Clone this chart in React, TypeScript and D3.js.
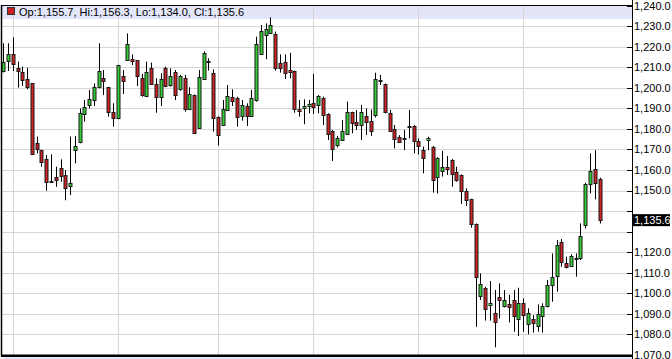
import React from "react";
import * as d3 from "d3";

const opens = [1208.2,1213.1,1216.3,1209.5,1207.9,1204.2,1202.2,1173.0,1169.7,1165.2,1154.9,1156.7,1160.8,1157.5,1152.6,1170.1,1173.3,1187.1,1191.5,1194.1,1200.3,1204.7,1200.3,1188.4,1185.2,1206.0,1213.4,1214.2,1213.4,1204.7,1195.7,1209.8,1201.7,1195.4,1209.8,1201.4,1207.9,1199.3,1205.0,1189.7,1196.5,1180.8,1204.3,1213.2,1207.1,1186.0,1181.9,1189.2,1195.7,1194.9,1186.3,1191.2,1186.3,1194.1,1216.3,1225.7,1226.9,1226.1,1212.0,1212.5,1208.7,1208.2,1189.7,1190.0,1191.2,1192.8,1191.7,1195.2,1187.1,1179.0,1171.9,1174.9,1177.5,1188.1,1183.2,1181.9,1186.5,1183.9,1186.8,1204.0,1201.7,1187.6,1179.8,1176.2,1175.5,1181.2,1181.6,1174.3,1169.7,1174.6,1171.4,1156.4,1159.5,1161.6,1164.9,1159.2,1157.6,1149.9,1145.7,1133.7,1098.3,1102.7,1094.0,1090.2,1098.0,1094.0,1094.6,1096.7,1087.3,1095.1,1085.0,1087.3,1083.7,1088.9,1093.5,1103.7,1108.1,1125.1,1114.6,1113.6,1116.8,1117.0,1132.9,1153.0,1160.5,1155.7];
const highs = [1221.7,1221.7,1224.6,1212.8,1210.3,1209.8,1202.2,1176.3,1169.9,1167.3,1167.6,1161.6,1165.2,1160.0,1176.3,1176.6,1190.0,1194.1,1199.0,1202.2,1221.7,1208.7,1200.5,1192.5,1211.2,1208.7,1226.5,1216.3,1213.6,1206.8,1212.8,1212.3,1204.7,1207.1,1210.3,1209.5,1208.7,1206.3,1206.3,1200.3,1196.8,1208.7,1217.7,1214.4,1209.0,1186.2,1194.1,1201.4,1199.3,1195.7,1194.1,1192.5,1199.0,1224.9,1230.6,1231.4,1234.3,1227.4,1216.3,1216.3,1217.1,1208.4,1194.1,1194.4,1194.1,1206.8,1196.5,1195.7,1187.6,1179.5,1176.6,1184.3,1193.3,1188.4,1189.2,1191.7,1190.0,1189.5,1207.4,1206.3,1202.2,1189.2,1181.9,1177.0,1179.5,1189.2,1181.9,1175.4,1171.4,1176.2,1171.7,1166.2,1169.3,1166.8,1165.4,1161.6,1157.9,1151.1,1146.0,1134.0,1109.7,1103.2,1106.0,1101.6,1104.8,1101.6,1099.2,1101.6,1102.7,1097.5,1092.7,1089.4,1094.6,1095.1,1106.5,1119.4,1125.9,1126.4,1117.8,1119.0,1119.4,1134.0,1153.8,1168.1,1169.7,1156.3];
const lows = [1207.5,1208.2,1208.2,1200.1,1200.9,1199.3,1167.3,1168.1,1161.6,1149.9,1153.8,1151.8,1154.3,1145.3,1147.8,1163.2,1173.0,1183.6,1190.0,1191.2,1199.8,1196.5,1186.0,1181.1,1185.0,1197.0,1213.1,1211.1,1200.9,1195.7,1195.5,1201.4,1187.9,1191.2,1200.3,1200.6,1194.1,1198.6,1188.4,1189.2,1177.6,1180.6,1203.8,1208.4,1178.7,1171.9,1181.4,1188.7,1191.2,1181.1,1184.0,1181.4,1186.0,1193.3,1216.0,1213.9,1226.5,1208.4,1207.4,1204.3,1204.7,1187.9,1186.0,1182.3,1187.6,1187.3,1187.6,1181.9,1174.6,1164.4,1171.0,1174.6,1177.0,1177.9,1179.5,1174.6,1177.0,1176.6,1185.6,1201.4,1187.6,1178.7,1170.5,1173.3,1169.7,1175.4,1168.1,1167.6,1158.4,1169.7,1149.0,1148.6,1156.8,1157.6,1151.9,1154.3,1143.5,1142.5,1131.9,1083.7,1096.7,1086.7,1086.7,1073.7,1087.8,1093.1,1085.8,1081.3,1079.2,1081.3,1080.0,1080.8,1081.3,1080.8,1093.1,1095.9,1100.8,1112.9,1112.1,1112.9,1108.1,1116.2,1131.6,1148.6,1145.7,1134.0];
const closes = [1212.8,1216.3,1211.5,1208.2,1204.2,1200.1,1167.8,1170.1,1163.7,1153.9,1154.3,1155.4,1156.7,1151.0,1153.9,1171.9,1187.6,1190.5,1194.4,1200.3,1208.2,1203.3,1188.1,1185.7,1211.0,1203.7,1221.2,1213.4,1205.5,1196.2,1207.6,1202.2,1195.4,1204.3,1200.9,1206.0,1196.5,1205.8,1189.7,1196.8,1177.9,1205.5,1216.8,1213.0,1185.2,1177.4,1189.5,1196.2,1193.6,1185.5,1191.7,1186.3,1195.2,1221.2,1227.7,1228.5,1230.6,1209.5,1209.8,1207.1,1207.6,1189.5,1188.7,1191.2,1192.0,1190.8,1196.2,1187.1,1177.5,1170.1,1175.4,1179.2,1188.4,1182.7,1181.6,1188.1,1183.5,1179.0,1204.2,1203.6,1188.1,1179.0,1175.1,1174.0,1175.3,1181.0,1174.3,1171.7,1165.7,1175.4,1155.1,1165.7,1161.3,1160.5,1158.1,1155.5,1149.8,1145.7,1133.6,1108.1,1104.3,1092.7,1095.1,1085.7,1096.4,1096.7,1093.1,1088.9,1095.1,1089.3,1090.5,1085.4,1089.7,1094.0,1103.9,1107.8,1123.3,1115.4,1112.6,1118.3,1117.0,1127.9,1153.0,1159.5,1153.5,1135.6];

const yTicks = d3.range(1070, 1241, 10);
const monthStarts = [2, 24, 45, 65, 87, 109];

const W = 672, H = 359;
const left = 1, axisX = 632, top = 5.7, bottom = 354.9;
const fmt = d3.format(",.1f");

export default function App() {
  const n = closes.length;
  const x = d3.scaleLinear().domain([-0.48, 131.8]).range([left, axisX]);
  const y = d3.scaleLinear().domain([1070, 1240]).range([bottom, top]);
  const last = n - 1;
  const lastY = y(closes[last]);
  const font = "'Liberation Sans', Arial, sans-serif";
  return (
    <svg width={W} height={H} style={{ position: "absolute", left: 0, top: 0, background: "#fff" }}
      fontFamily={font}>
      <rect x={0} y={0} width={W} height={H} fill="#fff" />
      {/* header band */}
      <rect x={2} y={5} width={axisX - 2} height={14} fill="#e3e5f9" />
      {/* horizontal grid */}
      {yTicks.filter(v => v > 1070 && v < 1240).map(v => (
        <line key={"g" + v} x1={2} x2={axisX} y1={Math.round(y(v)) + 0.5} y2={Math.round(y(v)) + 0.5}
          stroke="#d6d6d6" strokeWidth={1} />
      ))}
      {/* vertical grid */}
      {monthStarts.map(i => (
        <line key={"v" + i} x1={Math.round(x(i)) + 0.5} x2={Math.round(x(i)) + 0.5} y1={5} y2={355}
          stroke="#d6d6d6" strokeWidth={1} />
      ))}
      {/* candles */}
      {closes.map((c, i) => {
        const o = opens[i];
        const cx = Math.round(x(i)) + 0.5;
        const up = c >= o;
        const yt = y(Math.max(o, c));
        const yb = y(Math.min(o, c));
        return (
          <g key={"c" + i}>
            <line x1={cx} x2={cx} y1={y(highs[i])} y2={y(lows[i])} stroke="#000" strokeWidth={1} />
            <rect x={cx - 1.5} y={Math.round(yt) + 0.5} width={3} height={Math.max(1, Math.round(yb - yt))}
              fill={up ? "#33cc33" : "#cc2222"} stroke="#1a1a1a" strokeWidth={1} />
          </g>
        );
      })}
      {/* frame */}
      <line x1={1.5} x2={1.5} y1={5} y2={356} stroke="#000" strokeWidth={1.5} />
      <line x1={1} x2={axisX} y1={5.5} y2={5.5} stroke="#000" strokeWidth={1} />
      <line x1={1} x2={axisX} y1={355.8} y2={355.8} stroke="#000" strokeWidth={2.5} />
      <rect x={2} y={357} width={axisX - 2} height={2} fill="#e3e5f9" />
      <line x1={axisX + 0.5} x2={axisX + 0.5} y1={0} y2={H} stroke="#000" strokeWidth={1} />
      {/* legend */}
      <rect x={7.5} y={7.5} width={7} height={7} fill="#cc2222" stroke="#333" strokeWidth={1} />
      <text x={19} y={16} fontSize={11} fill="#000">
        {`Op:${fmt(opens[last])}, Hi:${fmt(highs[last])}, Lo:${fmt(lows[last])}, Cl:${fmt(closes[last])}`}
      </text>
      {/* right axis */}
      {yTicks.map(v => (
        <g key={"t" + v}>
          <line x1={axisX - 5} x2={axisX} y1={Math.round(y(v)) + 0.5} y2={Math.round(y(v)) + 0.5} stroke="#000" />
          {Math.abs(y(v) - lastY) > 12 && (
            <text x={axisX + 2} y={y(v)} dy="0.35em" fontSize={11} fill="#000">{fmt(v)}</text>
          )}
        </g>
      ))}
      <rect x={axisX + 1} y={lastY - 6} width={37} height={12} fill="#000" />
      <text x={axisX + 2} y={lastY} dy="0.35em" fontSize={11} fill="#fff">{fmt(closes[last])}</text>
    </svg>
  );
}
